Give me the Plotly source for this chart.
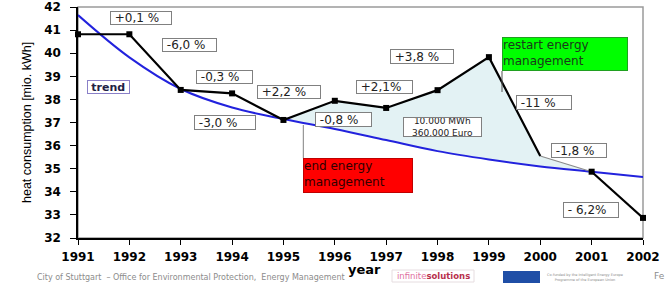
import plotly.graph_objects as go

years = [1991, 1992, 1993, 1994, 1995, 1996, 1997, 1998, 1999, 2000, 2001, 2002]
consumption = [40.82, 40.82, 38.41, 38.26, 37.11, 37.94, 37.63, 38.40, 39.83, 35.55, 34.87, 32.87]
trend = [41.65, 39.82, 38.45, 37.65, 37.15, 36.72, 36.24, 35.76, 35.40, 35.10, 34.87, 34.64]
change_labels = ["+0,1 %", "-6,0 %", "-0,3 %", "-3,0 %", "+2,2 %", "-0,8 %",
                 "+2,1%", "+3,8 %", "-11 %", "-1,8 %", "- 6,2%"]
y_ticks = list(range(32, 43))

W, H = 667, 283
L, R, T, B = 78, 24, 7, 45
PW, PH = W - L - R, H - T - B


def px(x):
    return (x - L) / PW


def py(y):
    return (H - B - y) / PH


fig = go.Figure()

# shaded saving area between trend and consumption (1995 .. 2001)
i0, i1 = years.index(1995), years.index(2001) + 1
fig.add_trace(go.Scatter(x=years[i0:i1], y=trend[i0:i1], mode="lines",
                         line=dict(width=0, shape="spline", color="rgba(0,0,0,0)"),
                         hoverinfo="skip", showlegend=False))
fig.add_trace(go.Scatter(x=years[i0:i1], y=consumption[i0:i1], mode="lines",
                         line=dict(width=0, color="rgba(0,0,0,0)"),
                         fill="tonexty", fillcolor="#e3f2f4",
                         hoverinfo="skip", showlegend=False))

# trend curve
fig.add_trace(go.Scatter(x=years, y=trend, mode="lines",
                         line=dict(color="#2222dd", width=2, shape="spline"),
                         cliponaxis=False, showlegend=False))

# consumption line segments
j = years.index(2000)
k = years.index(2001)
fig.add_trace(go.Scatter(x=years[j:k + 1], y=consumption[j:k + 1], mode="lines",
                         line=dict(color="#8a8a8a", width=1.2),
                         cliponaxis=False, showlegend=False))
fig.add_trace(go.Scatter(x=years[:j + 1], y=consumption[:j + 1], mode="lines",
                         line=dict(color="black", width=2.2),
                         cliponaxis=False, showlegend=False))
fig.add_trace(go.Scatter(x=years[k:], y=consumption[k:], mode="lines",
                         line=dict(color="black", width=2.2),
                         cliponaxis=False, showlegend=False))
mx = [y for i, y in enumerate(years) if i != j]
my = [c for i, c in enumerate(consumption) if i != j]
fig.add_trace(go.Scatter(x=mx, y=my, mode="markers",
                         marker=dict(symbol="square", size=6, color="black"),
                         cliponaxis=False, showlegend=False))

annotations = []


def box(text, x0, y0, x1, y1, size=12, bg="white", border="#808080",
        color="#222222", align="left", valign="middle", weight="normal", family="DejaVu Sans"):
    annotations.append(dict(
        text=text, xref="paper", yref="paper",
        x=px((x0 + x1) / 2), y=py((y0 + y1) / 2),
        xanchor="center", yanchor="middle", showarrow=False,
        width=max(x1 - x0 - 2, 1), height=max(y1 - y0 - 2, 1),
        align=align, valign=valign, bgcolor=bg, bordercolor=border,
        borderwidth=1, borderpad=0,
        font=dict(family=family, size=size, color=color, weight=weight)))


label_boxes = [
    (110, 10.7, 171.7, 25),
    (161.7, 38.3, 216.7, 52.7),
    (196, 70, 252.7, 84),
    (194.3, 115, 256, 130),
    (256.7, 85, 320.7, 99.3),
    (315, 111.7, 371.7, 126.7),
    (356, 80, 413.3, 94),
    (390, 49.3, 454, 64.3),
    (516, 95, 571.7, 110),
    (550.7, 143.3, 606.7, 158.3),
    (563.3, 201.7, 619, 217.3),
]
for t, (x0, y0, x1, y1) in zip(change_labels, label_boxes):
    box("&nbsp;" + t, x0, y0, x1, y1, size=12)

box("10.000 MWh<br>360.000 Euro", 402.7, 116.7, 481.7, 136.7, size=9, align="center")
box("<b>trend</b>", 86.7, 80, 129.3, 94, size=11, border="#8a80c8", color="#222244", align="center")
box("restart energy<br>management", 502, 37, 628, 71, size=12, bg="#00ff00",
    border="#20a020", color="#1a3a1a", valign="top")
box("end energy<br>management", 303.3, 158.3, 413.3, 193.3, size=12, bg="#ff0000",
    border="#c00000", color="#300000", valign="top")

shapes = [
    dict(type="rect", xref="paper", yref="paper", x0=0, x1=1, y0=0, y1=1,
         line=dict(color="#9a9a9a", width=1.5), layer="below"),
    dict(type="line", xref="paper", yref="paper", x0=px(303.3), x1=px(303.3),
         y0=py(125), y1=py(158.3), line=dict(color="#808080", width=1)),
    dict(type="line", xref="paper", yref="paper", x0=px(502), x1=px(502),
         y0=py(71), y1=py(92), line=dict(color="#505050", width=1)),
    # EU flag in footer
    dict(type="rect", xref="paper", yref="paper", x0=px(503), x1=px(540),
         y0=py(283), y1=py(271), fillcolor="#1f4ea6", line=dict(width=0)),
    dict(type="rect", xref="paper", yref="paper", x0=px(392), x1=px(474),
         y0=py(282), y1=py(270), fillcolor="white", line=dict(color="#e6dde0", width=1)),
]

# axis titles
annotations.append(dict(text="heat consumption [mio. kWh]", xref="paper", yref="paper",
                        x=px(27), y=py(123), textangle=-90, showarrow=False,
                        xanchor="center", yanchor="middle",
                        font=dict(family="Liberation Sans", size=12.5, color="black")))
annotations.append(dict(text="<b>year</b>", xref="paper", yref="paper",
                        x=px(364), y=py(269), showarrow=False,
                        xanchor="center", yanchor="middle",
                        font=dict(family="DejaVu Sans", size=13, color="black")))
# footer
annotations.append(dict(text="City of Stuttgart  \u2013 Office for Environmental Protection,  Energy Management",
                        xref="paper", yref="paper", x=px(35), y=py(277), showarrow=False,
                        xanchor="left", yanchor="middle",
                        font=dict(family="DejaVu Sans", size=8, color="#8c8c8c")))
annotations.append(dict(text="<span style='color:#e070a0'>infinite</span><b style='color:#b8304c'>solutions</b>",
                        xref="paper", yref="paper", x=px(433), y=py(276), showarrow=False,
                        xanchor="center", yanchor="middle",
                        font=dict(family="DejaVu Sans", size=8.5, color="#b8304c")))
annotations.append(dict(text="Co-funded by the Intelligent Energy Europe<br>Programme of the European Union",
                        xref="paper", yref="paper", x=px(545), y=py(277), showarrow=False,
                        xanchor="left", yanchor="middle",
                        font=dict(family="DejaVu Sans", size=3.5, color="#8c8c8c")))
annotations.append(dict(text="Fe", xref="paper", yref="paper", x=px(652), y=py(276),
                        showarrow=False, xanchor="left", yanchor="middle",
                        font=dict(family="DejaVu Sans", size=9, color="#8c8c8c")))

fig.update_layout(
    width=W, height=H, margin=dict(l=L, r=R, t=T, b=B, pad=0, autoexpand=False),
    paper_bgcolor="white", plot_bgcolor="white",
    xaxis=dict(range=[years[0], years[-1]], tickmode="array", tickvals=years,
               ticktext=[str(y) for y in years], showgrid=False, zeroline=False,
               showline=True, linecolor="black", linewidth=1.5, automargin=False,
               ticks="outside", ticklen=5, tickcolor="black", tickwidth=1,
               ticklabelstandoff=2,
               tickfont=dict(family="DejaVu Sans", size=12, color="black", weight="bold")),
    yaxis=dict(range=[y_ticks[0], y_ticks[-1]], tickmode="array", tickvals=y_ticks,
               showgrid=False, zeroline=False, automargin=False,
               showline=True, linecolor="black", linewidth=1.5,
               ticks="outside", ticklen=6, tickcolor="black", tickwidth=1,
               ticklabelstandoff=7,
               tickfont=dict(family="DejaVu Sans", size=12, color="black", weight="bold")),
    shapes=shapes, annotations=annotations, showlegend=False,
)

fig.write_html("out.html", config={"displayModeBar": False},
               post_script="document.body.style.margin='0';document.body.style.overflow='hidden';")
